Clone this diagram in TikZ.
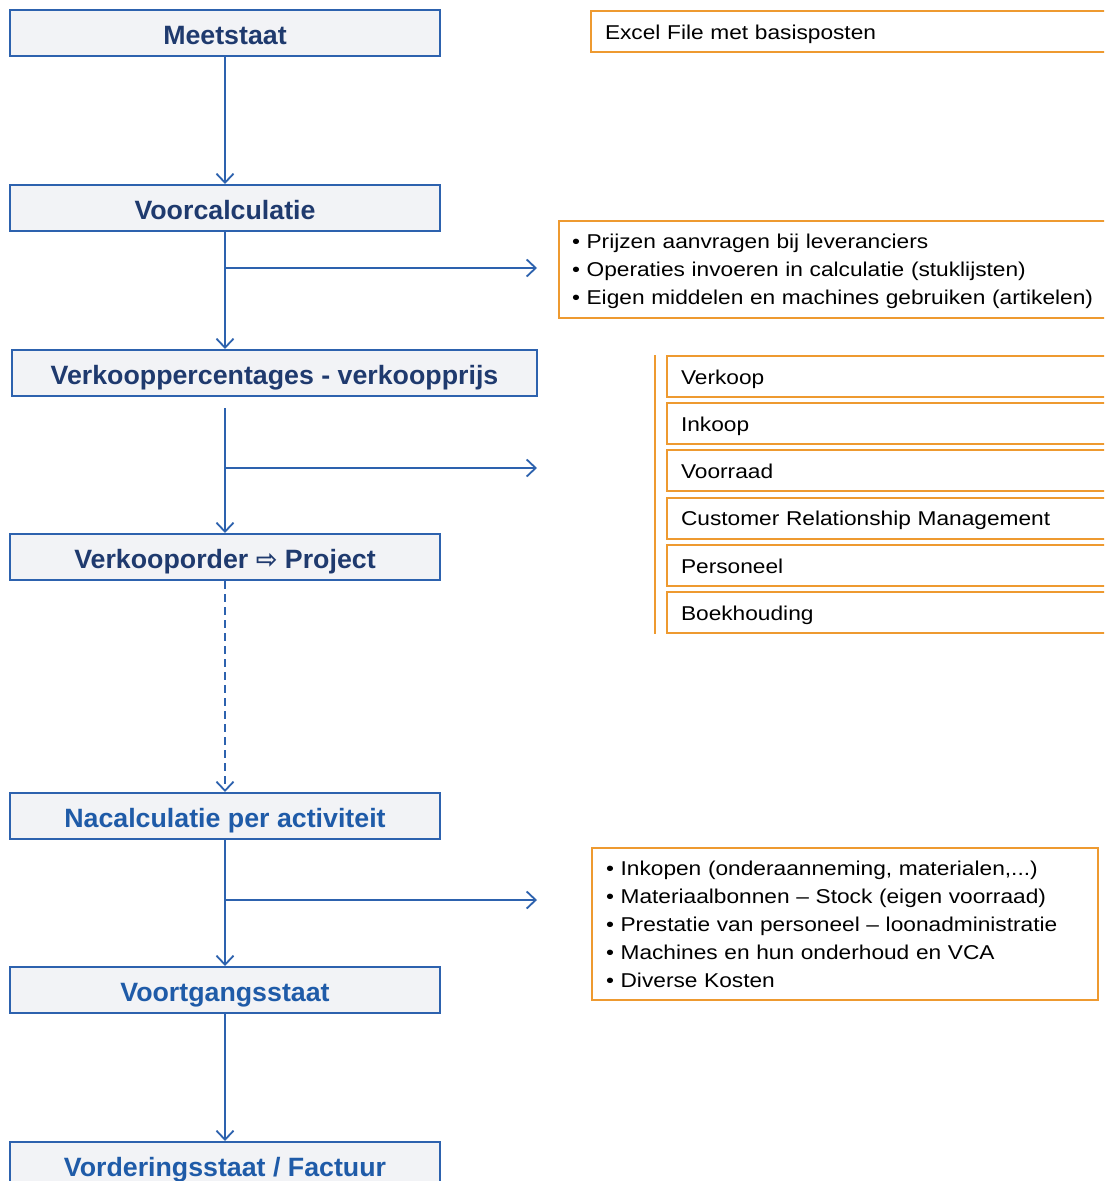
\documentclass[tikz,border=0pt]{standalone}
\usepackage{fontspec}
\setmainfont{Liberation Sans}
\newfontfamily\symfont{DejaVu Sans}
\newfontfamily\widefont[FakeStretch=1.135]{Liberation Sans}
\newfontfamily\headfont[FakeStretch=1.01]{Liberation Sans}
\usetikzlibrary{arrows.meta}
\definecolor{lineblue}{HTML}{2D62AE}
\definecolor{navy}{HTML}{1F3A6E}
\definecolor{midblue}{HTML}{1F5BA8}
\definecolor{boxfill}{HTML}{F2F3F6}
\definecolor{orng}{HTML}{EE9A30}
\begin{document}
\begin{tikzpicture}[x=1pt,y=-1pt,
  flow/.style={draw=lineblue,line width=2pt,fill=boxfill,minimum width=430pt,minimum height=46pt,inner sep=0pt,text height=22pt,text depth=0pt,font=\headfont\fontsize{26.5}{30}\selectfont\bfseries},
  conn/.style={draw=lineblue,line width=1.8pt,-{Straight Barb[length=9pt,width=17pt]}},
  obox/.style={draw=orng,line width=2pt,anchor=north west,inner xsep=14pt,inner ysep=0pt,align=left,font=\widefont\fontsize{20}{28}\selectfont},
  oline/.style={obox,text width=440pt,minimum height=41pt,text height=15.5pt,text depth=0pt},
  orngline/.style={draw=orng,line width=2pt}
]
\clip (0,0) rectangle (1104,1181);
\fill[white] (0,0) rectangle (1104,1181);

% flow boxes
\node[flow,text=navy] (meet) at (225,33) {Meetstaat};
\node[flow,text=navy] (voor) at (225,208) {Voorcalculatie};
\node[flow,text=navy,minimum width=525pt] (perc) at (274.5,373) {Verkooppercentages - verkoopprijs};
\node[flow,text=navy] (order) at (225,557) {Verkooporder {\symfont\fontsize{26}{26}\selectfont ⇨} Project};
\node[flow,text=midblue] (nac) at (225,816) {Nacalculatie per activiteit};
\node[flow,text=midblue] (voort) at (225,990) {Voortgangsstaat};
\node[flow,text=midblue] (vord) at (225,1165) {Vorderingsstaat / Factuur};

% orange boxes
\node[oline,text width=500pt] (excel) at (590,10) {Excel File met basisposten};
\node[obox,inner xsep=13pt,text width=560pt,minimum height=97pt] (prijs) at (558,220)
  {\rule{0pt}{19pt}• Prijzen aanvragen bij leveranciers\\• Operaties invoeren in calculatie (stuklijsten)\\• Eigen middelen en machines gebruiken (artikelen)};
\node[oline] (verkoop) at (666,355) {Verkoop};
\node[oline] (inkoop) at (666,402.2) {Inkoop};
\node[oline] (voorraad) at (666,449.4) {Voorraad};
\node[oline] (crm) at (666,496.6) {Customer Relationship Management};
\node[oline] (pers) at (666,543.8) {Personeel};
\node[oline] (boek) at (666,591) {Boekhouding};
\node[obox,text width=478pt,minimum height=152pt] (inkopen) at (591,847)
  {• Inkopen (onderaanneming, materialen,...)\\• Materiaalbonnen – Stock (eigen voorraad)\\• Prestatie van personeel – loonadministratie\\• Machines en hun onderhoud en VCA\\• Diverse Kosten};

% bracket
\coordinate (bt) at (655,355);
\coordinate (bb) at (655,634);
\draw[orngline] (bt) -- (bb);

% connectors
\draw[conn] (meet.south) -- (voor.north);
\draw[conn] (voor.south) -- (voor.south |- perc.north);
\coordinate (b1) at (225,268); \coordinate (e1) at (537,268);
\draw[conn] (b1) -- (e1);
\coordinate (s2) at (225,408);
\draw[conn] (s2) -- (order.north);
\coordinate (b2) at (225,468); \coordinate (e2) at (537,468);
\draw[conn] (b2) -- (e2);
\draw[conn,dash pattern=on 8pt off 5pt] (order.south) -- (nac.north);
\draw[conn] (nac.south) -- (voort.north);
\coordinate (b3) at (225,900); \coordinate (e3) at (537,900);
\draw[conn] (b3) -- (e3);
\draw[conn] (voort.south) -- (vord.north);
\end{tikzpicture}
\end{document}
